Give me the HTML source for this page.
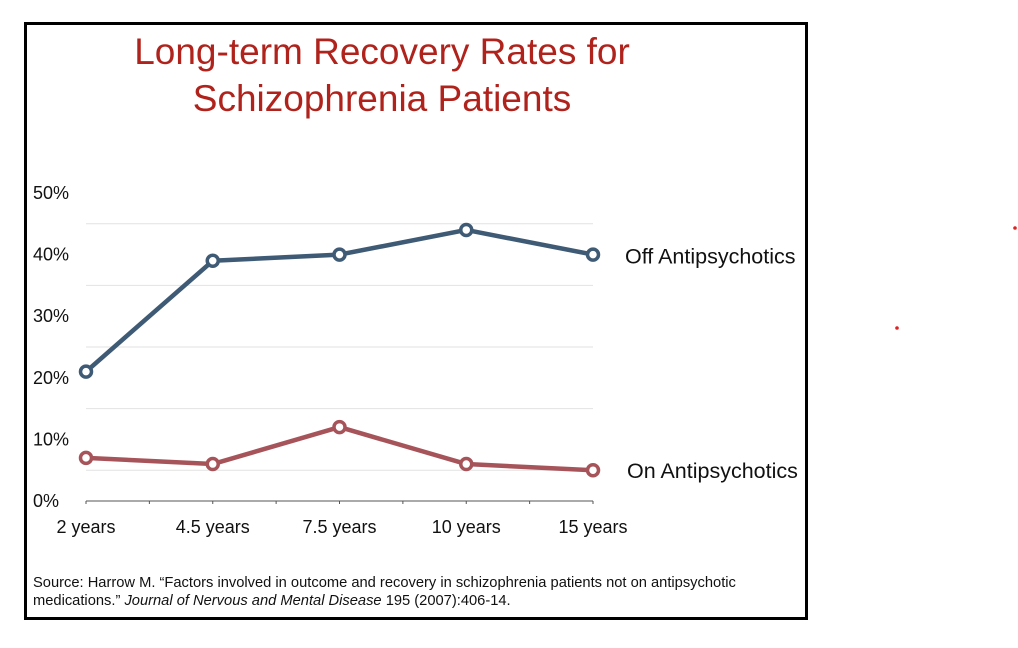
<!DOCTYPE html>
<html><head><meta charset="utf-8"><style>
body{margin:0;width:1018px;height:648px;background:#fff;position:relative;overflow:hidden;font-family:"Liberation Sans",sans-serif}
#frame{position:absolute;left:24px;top:22px;width:778px;height:592px;border:3px solid #000}
.t{position:absolute;white-space:nowrap}
</style></head><body>
<div id="frame"></div>
<div class="t" style="left:82px;width:600px;top:28px;text-align:center;color:#b0231c;font-size:37px;line-height:47px">Long-term Recovery Rates for<br>Schizophrenia Patients</div>
<svg id="chart" width="1018" height="648" style="position:absolute;left:0;top:0">
<circle cx="1015" cy="228" r="1.8" fill="#d22"/>
<circle cx="897" cy="328" r="1.8" fill="#d22"/>
</svg>
<div class="t" style="left:33px;top:574px;font-size:14.7px;line-height:18px;color:#111">Source: Harrow M. “Factors involved in outcome and recovery in schizophrenia patients not on antipsychotic<br>medications.” <i>Journal of Nervous and Mental Disease</i> 195 (2007):406-14.</div>
<script>
const categories=["2 years","4.5 years","7.5 years","10 years","15 years"];
const offValues=[21,39,40,44,40];
const onValues=[7,6,12,6,5];
const yTicks=[0,10,20,30,40,50];
const gridValues=[5,15,25,35,45];
const seriesNames=["Off Antipsychotics","On Antipsychotics"];
const NS="http://www.w3.org/2000/svg";
const svg=document.getElementById('chart');
const x0=86,x1=593,y0=501,pxPer=6.16;
const xs=i=>x0+i*(x1-x0)/(categories.length-1);
const ys=v=>y0-v*pxPer;
function mk(t,a){const e=document.createElementNS(NS,t);for(const k in a)e.setAttribute(k,a[k]);svg.appendChild(e);return e;}
gridValues.forEach(v=>{const l=mk('line',{x1:x0,x2:x1,y1:ys(v),y2:ys(v),stroke:'#e2e2e2','stroke-width':1});

});
const ax=mk('line',{x1:x0,x2:x1,y1:y0,y2:y0,stroke:'#555','stroke-width':1});


for(let i=0;i<categories.length*2-1;i++){const tx=x0+i*(x1-x0)/((categories.length-1)*2);const tk=mk('line',{x1:tx,x2:tx,y1:y0,y2:y0+3,stroke:'#555'});

}
yTicks.forEach(v=>{const t=mk('text',{x:33,y:ys(v)+6,'font-size':18,fill:'#111','font-family':'Liberation Sans, sans-serif'});t.textContent=v+'%';

});
categories.forEach((c,i)=>{const t=mk('text',{x:xs(i),y:533,'font-size':18,fill:'#111','text-anchor':'middle','font-family':'Liberation Sans, sans-serif'});t.textContent=c;

});
function series(vals,col,name,lbl,ly){
 const p=mk('polyline',{points:vals.map((v,i)=>xs(i)+','+ys(v)).join(' '),fill:'none',stroke:col,'stroke-width':4.5,'stroke-linejoin':'round'});
 
 
 vals.forEach((v,i)=>{const c=mk('circle',{cx:xs(i),cy:ys(v),r:5.5,fill:'#fff',stroke:col,'stroke-width':3.5});
 
 });
 const t=mk('text',{x:lbl,y:ly,'font-size':21.5,fill:'#111','font-family':'Liberation Sans, sans-serif'});t.textContent=name==='off'?seriesNames[0]:seriesNames[1];
 
 
}
series(offValues,'#3e5a74','off',625,ys(offValues[4])+9);
series(onValues,'#a6545a','on',627,ys(onValues[4])+8);
</script>
</body></html>
